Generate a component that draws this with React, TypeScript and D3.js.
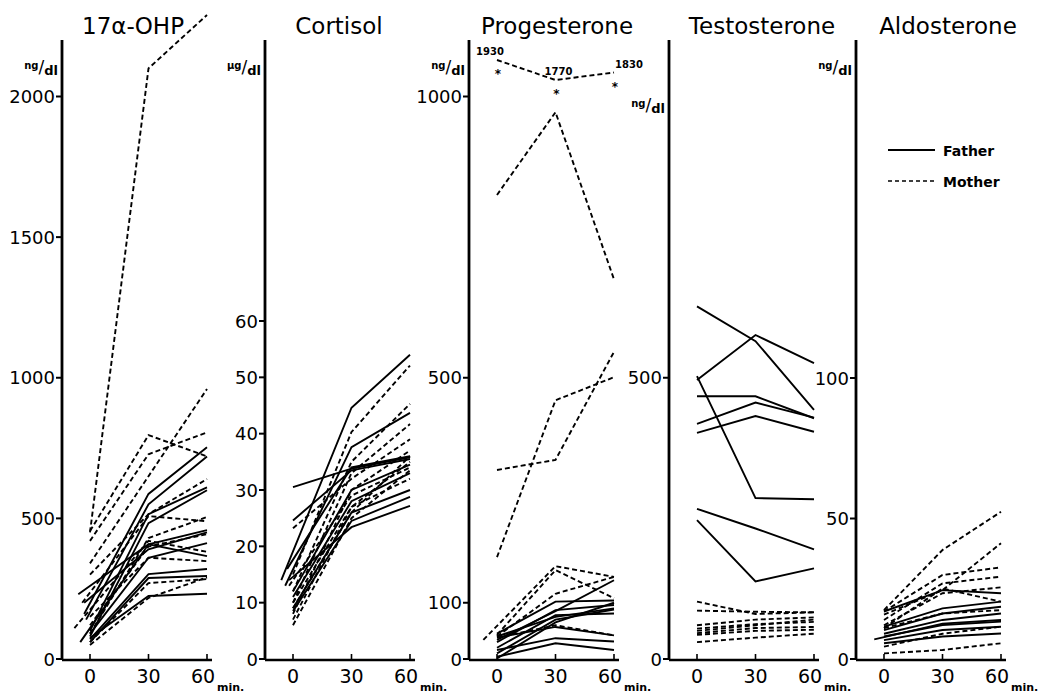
import React from 'react';
import * as d3 from 'd3';

// [value at 0 min, value at 30 min, value at 60 min, start time (min)]
type Row = [number, number, number, number?];

const times = [0, 30, 60];
const xTickLabels = ['0', '30', '60'];

const ohpFather: Row[] = [
  [160, 587, 753, -3], [140, 550, 720, -2], [100, 515, 610, 0], [80, 483, 600, 0],
  [60, 408, 458, -5], [230, 408, 366, -6], [90, 360, 412, 0], [70, 302, 320, 0],
  [60, 288, 295, 0], [75, 224, 232, 0], [200, 390, 450, -3],
];
const ohpMother: Row[] = [
  [450, 2100, 2290, 0], [455, 796, 720, 0], [420, 728, 806, 0], [340, 650, 960, 0],
  [300, 515, 640, 0], [200, 508, 490, -4], [110, 420, 381, -8], [150, 360, 348, 0],
  [60, 270, 284, 0], [50, 217, 290, 0], [120, 400, 444, 0], [90, 430, 505, 0],
];

const cortFather: Row[] = [
  [14, 44.6, 54, -6], [13, 37.6, 43.7, -4], [30.5, 33.8, 35.8, 0], [24.6, 33.5, 35.5, 0],
  [16, 34, 36, -3], [12, 30, 34.5, 0], [9, 26, 30, 0], [8.5, 24.5, 28.8, 0],
  [14, 23.4, 27.2, -2], [11, 28, 33, 0],
];
const cortMother: Row[] = [
  [15, 40.3, 52.1, 0], [12, 35, 45.3, 0], [10, 33, 41.7, 0], [23.2, 32, 39, 0],
  [8, 30, 37, 0], [7, 27, 35, 0], [6, 25, 33.5, 0], [10, 27, 32, 0],
  [9, 26, 36, 0], [13, 29, 34, -2],
];

const progFather: Row[] = [
  [34, 85, 140, 0], [45, 102, 104, 0], [30, 87, 96, 0], [20, 78, 81, 0],
  [38, 57, 42, 0], [16, 37, 31, 0], [4, 28, 16, 0], [1, 65, 100, 0],
  [10, 70, 88, 0], [40, 75, 90, 0],
];
const progMother: Row[] = [
  [825, 972, 675, 0], [181, 460, 501, 0], [336, 354, 546, 0], [34, 165, 146, -7],
  [43, 158, 108, 0], [40, 116, 146, 0], [38, 60, 42, 0],
];
// off-scale mother values, drawn in the broken top band with labels
const progOffScale = [1930, 1770, 1830];

const testoFather: Row[] = [
  [627, 565, 443, 0], [496, 576, 526, 0], [503, 286, 284, 0], [467, 467, 428, 0],
  [418, 456, 429, 0], [402, 432, 404, 0], [267, 232, 195, 0], [247, 138, 161, 0],
];
const testoMother: Row[] = [
  [102, 80, 83, 0], [86, 84, 83, 0], [60, 70, 74, 0], [54, 62, 66, 0],
  [46, 55, 57, 0], [43, 50, 52, 0], [30, 38, 45, 0], [50, 60, 70, 0],
];

const aldoFather: Row[] = [
  [16.9, 24.5, 23.4, 0], [11.5, 18, 20.4, 0], [10.3, 16.2, 18.6, 0], [9, 13.9, 16.2, 0],
  [8, 12.1, 13.3, 0], [6.7, 10.3, 11.5, 0], [5.6, 8, 9.1, 0], [7, 12.6, 13.9, -5],
];
const aldoMother: Row[] = [
  [17.4, 38.8, 52.4, 0], [15.8, 24.5, 41.2, 0], [16.9, 29.9, 32.6, 0], [13.9, 26.9, 29.3, 0],
  [12, 23.4, 25.5, 0], [11, 25.1, 20.4, 0], [11, 16.2, 17.4, 0], [2, 3.2, 5.6, 0],
  [4.4, 9, 11.5, 0],
];

const titles = ['17α-OHP', 'Cortisol', 'Progesterone', 'Testosterone', 'Aldosterone'];
const unitNum = ['ng', 'µg', 'ng', 'ng', 'ng'];
const yMaxes = [2000, 60, 1000, 1000, 100];
const yTicks = [
  [0, 500, 1000, 1500, 2000],
  [0, 10, 20, 30, 40, 50, 60],
  [0, 100, 500, 1000],
  [0, 500],
  [0, 50, 100],
];
const fatherSets = [ohpFather, cortFather, progFather, testoFather, aldoFather];
const motherSets = [ohpMother, cortMother, progMother, testoMother, aldoMother];
const legendLabels = ['Father', 'Mother'];

// layout
const W = 1045, H = 696;
const axisXs = [62, 265, 469, 669, 856];
const titleXs = [133, 339, 557, 762, 948];
const yBase = 659;
const axisTop = 40;
const yTopPix = [96.5, 321, 96.5, 96.5, 378];
const unitYs = [74, 74, 74, 112, 74];
const FONT = '"DejaVu Sans", Verdana, sans-serif';

function Panel({ i }: { i: number }) {
  const ax = axisXs[i];
  const x = d3.scaleLinear().domain([0, 60]).range([ax + 28, ax + 145]);
  const y = d3.scaleLinear().domain([0, yMaxes[i]]).range([yBase, yTopPix[i]]);
  const line = d3
    .line<[number, number]>()
    .x((d) => x(d[0]))
    .y((d) => y(d[1]));
  const pts = (r: Row): [number, number][] => [
    [r[3] ?? 0, r[0]],
    [times[1], r[1]],
    [times[2], r[2]],
  ];
  return (
    <g>
      <text x={titleXs[i]} y={34} textAnchor="middle" fontSize={23} fontFamily={FONT}>
        {titles[i]}
      </text>
      <text x={ax - 4} y={unitYs[i]} textAnchor="end" fontFamily={FONT} fontWeight="bold">
        <tspan fontSize={10} dy={-5}>{unitNum[i]}</tspan>
        <tspan fontSize={17} dy={4} fontWeight="normal">/</tspan>
        <tspan fontSize={13} dy={2}>dl</tspan>
      </text>
      {/* y axis */}
      <line x1={ax} x2={ax} y1={axisTop} y2={yBase + 1} stroke="#000" strokeWidth={2.8} />
      {yTicks[i].map((t) => (
        <g key={t}>
          <line x1={ax - 6} x2={ax} y1={y(t)} y2={y(t)} stroke="#000" strokeWidth={2} />
          <text
            x={ax - 7}
            y={y(t) + 6.5}
            textAnchor="end"
            fontSize={18}
            fontFamily={FONT}
          >
            {t}
          </text>
        </g>
      ))}
      {/* x axis */}
      <line x1={ax} x2={x(60) + 5} y1={yBase + 1} y2={yBase + 1} stroke="#000" strokeWidth={2.4} />
      {times.map((t, k) => (
        <g key={t}>
          <line x1={x(t)} x2={x(t)} y1={yBase + 1} y2={yBase - 5} stroke="#000" strokeWidth={1.6} />
          <text
            x={x(t) - (k === 2 ? 4 : 0)}
            y={683}
            textAnchor="middle"
            fontSize={19}
            fontFamily={FONT}
          >
            {xTickLabels[k]}
          </text>
        </g>
      ))}
      <text x={x(60) + 10} y={691} fontSize={11} fontWeight="bold" fontFamily={FONT}>
        min.
      </text>
      {/* data */}
      {motherSets[i].map((r, k) => (
        <path
          key={'m' + k}
          d={line(pts(r)) || ''}
          fill="none"
          stroke="#000"
          strokeWidth={1.9}
          strokeDasharray="5 3"
        />
      ))}
      {fatherSets[i].map((r, k) => (
        <path key={'f' + k} d={line(pts(r)) || ''} fill="none" stroke="#000" strokeWidth={1.9} />
      ))}
      {i === 2 && <OffScale x={x} />}
    </g>
  );
}

function OffScale({ x }: { x: d3.ScaleLinear<number, number> }) {
  const yb = d3.scaleLinear().domain([1770, 1930]).range([80, 60]);
  const pts: [number, number][] = progOffScale.map((v, k) => [times[k], v]);
  const line = d3
    .line<[number, number]>()
    .x((d) => x(d[0]))
    .y((d) => yb(d[1]));
  const labelDx = [-7, 3, 15];
  return (
    <g>
      <path d={line(pts) || ''} fill="none" stroke="#000" strokeWidth={1.9} strokeDasharray="5 3" />
      {pts.map((p, k) => (
        <g key={k}>
          <text
            x={x(p[0]) + labelDx[k]}
            y={yb(p[1]) - 5}
            textAnchor="middle"
            fontSize={10}
            fontWeight="bold"
            fontFamily={FONT}
          >
            {p[1]}
          </text>
          <text
            x={x(p[0]) + 1}
            y={yb(p[1]) + 18}
            textAnchor="middle"
            fontSize={12}
            fontWeight="bold"
            fontFamily={FONT}
          >
            *
          </text>
        </g>
      ))}
    </g>
  );
}

export default function App() {
  return (
    <svg
      width={W}
      height={H}
      style={{ position: 'absolute', left: 0, top: 0, background: '#fff' }}
    >
      <rect width={W} height={H} fill="#fff" />
      {titles.map((_, i) => (
        <Panel key={i} i={i} />
      ))}
      <g fontFamily={FONT} fontSize={14} fontWeight="bold">
        <line x1={888} x2={935} y1={150} y2={150} stroke="#000" strokeWidth={2.2} />
        <text x={943} y={156}>{legendLabels[0]}</text>
        <line x1={888} x2={935} y1={181} y2={181} stroke="#000" strokeWidth={1.5} strokeDasharray="4 3" />
        <text x={943} y={187}>{legendLabels[1]}</text>
      </g>
    </svg>
  );
}
